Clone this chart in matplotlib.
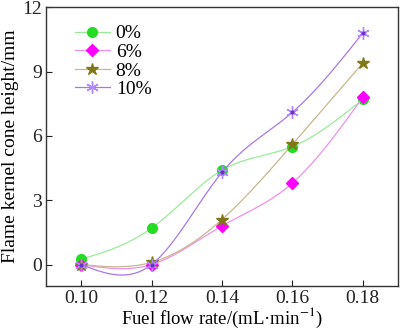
import numpy as np
import matplotlib
matplotlib.use("Agg")
import matplotlib.pyplot as plt

flow = [0.10, 0.12, 0.14, 0.16, 0.18]
h0 = [0.25, 1.7, 4.4, 5.5, 7.7]
h6 = [0.0, 0.0, 1.8, 3.8, 7.8]
h8 = [0.0, 0.1, 2.1, 5.6, 9.4]
h10 = [0.0, 0.0, 4.3, 7.1, 10.8]
labels = ["0%", "6%", "8%", "10%"]


def natural_spline(x, y, n=200):
    x = np.asarray(x, float); y = np.asarray(y, float)
    m = len(x); h = np.diff(x)
    A = np.zeros((m, m)); b = np.zeros(m)
    A[0, 0] = A[-1, -1] = 1
    for i in range(1, m - 1):
        A[i, i - 1] = h[i - 1]; A[i, i] = 2 * (h[i - 1] + h[i]); A[i, i + 1] = h[i]
        b[i] = 6 * ((y[i + 1] - y[i]) / h[i] - (y[i] - y[i - 1]) / h[i - 1])
    M = np.linalg.solve(A, b)
    xs = np.linspace(x[0], x[-1], n)
    k = np.clip(np.searchsorted(x, xs) - 1, 0, m - 2)
    t0 = x[k + 1] - xs; t1 = xs - x[k]; hk = h[k]
    ys = (M[k] * t0**3 + M[k + 1] * t1**3) / (6 * hk) \
        + (y[k] / hk - M[k] * hk / 6) * t0 + (y[k + 1] / hk - M[k + 1] * hk / 6) * t1
    return xs, ys


plt.rcParams['font.family'] = ['Liberation Serif', 'DejaVu Serif']
plt.rcParams['mathtext.fontset'] = 'stix'
fig = plt.figure(figsize=(4.0, 3.31), dpi=100)
ax = fig.add_axes([0.115, 0.136, 0.88, 0.842])

styles = [
    (h0, '#98ec98', dict(marker='o', ms=7, mfc='#22dd22', mec='#22dd22')),
    (h6, '#ee90ee', dict(marker='D', ms=6, mfc='#ff00ff', mec='#ff00ff')),
    (h8, '#c8b890', dict(marker='*', ms=9, mfc='#807818', mec='#807818')),
    (h10, '#a878e8', dict(marker=(6, 2, 0), ms=9, mfc='#b088ff', mec='#b088ff', mew=1.0)),
]
for (ys, lc, mk), lab in zip(styles, labels):
    xs, ss = natural_spline(flow, ys)
    ax.plot(xs, ss, color=lc, lw=0.9)
    ax.plot(flow, ys, ls='none', **mk)
    ax.plot([], [], color=lc, lw=0.9, label=lab, **mk)
# dark centre dots on the 10% asterisks
ax.plot(flow, h10, ls='none', marker='o', ms=2, color='#7030c0')

ax.set_xlim(0.09, 0.19)
ax.set_ylim(-1, 12)
ax.set_xticks(flow)
ax.set_xticklabels([f"{v:.2f}" for v in flow])
ax.set_yticks([0, 3, 6, 9, 12])
ax.set_yticklabels(["0", "3", "6", "9", "12"])
ax.tick_params(direction='in', labelsize=14, length=4, width=0.8, colors='#222222', pad=3)
for s in ax.spines.values():
    s.set_linewidth(1.0); s.set_color('#333333')
ax.set_xlabel("Fuel flow rate/(mL·min$^{-1}$)", fontsize=13.5, labelpad=-1)
ax.set_ylabel("Flame kernel cone height/mm", fontsize=14, labelpad=2)

leg = ax.legend(loc='upper left', bbox_to_anchor=(0.06, 0.965), frameon=False,
                fontsize=14, handlelength=1.8, handletextpad=0.3, labelspacing=0.05,
                borderaxespad=0)

fig.savefig('out.png', dpi=100)
